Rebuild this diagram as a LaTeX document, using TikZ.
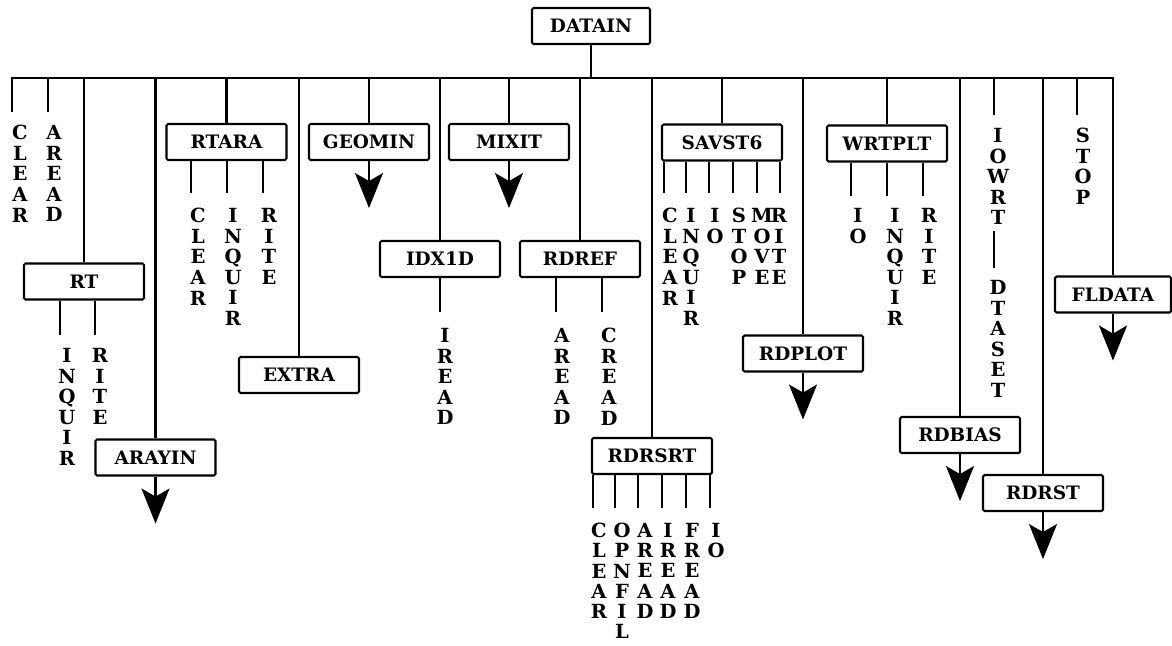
\documentclass[tikz,border=0pt]{standalone}
\usepackage{fontspec}
\setmainfont{DejaVu Serif}
\usetikzlibrary{arrows.meta}
\begin{document}
\begin{tikzpicture}[x=1pt,y=-1pt,
  every node/.style={font=\fontsize{18.5}{20.6}\selectfont\bfseries},
  ln/.style={line width=2.3pt},
  box/.style={draw, line width=2.1pt, rounded corners=1.5pt, minimum width=120pt, minimum height=36pt, inner sep=0pt},
  leaf/.style={anchor=north, inner sep=0pt, align=center, font=\fontsize{19.5}{20.6}\selectfont\bfseries},
  arr/.style={line width=2.4pt, -{Stealth[length=35pt,width=28pt,inset=8pt]}}]
\useasboundingbox (0,0) rectangle (1172,645);

% boxes
\node[box, minimum width=118pt] (datain) at (591,26) {DATAIN};
\node[box] (rt)     at (84,281.5)   {RT};
\node[box] (arayin) at (155.5,457.5) {ARAYIN};
\node[box] (rtara)  at (226.5,142)  {RTARA};
\node[box] (extra)  at (299,375)    {EXTRA};
\node[box] (geomin) at (369,142)    {GEOMIN};
\node[box] (idx1d)  at (440,259)    {IDX1D};
\node[box] (mixit)  at (509,142)    {MIXIT};
\node[box] (rdref)  at (580,259)    {RDREF};
\node[box] (rdrsrt) at (652,456)    {RDRSRT};
\node[box] (savst6) at (722,142.5)  {SAVST6};
\node[box] (rdplot) at (803,353.5)  {RDPLOT};
\node[box] (wrtplt) at (887,143.5)  {WRTPLT};
\node[box] (rdbias) at (960,435)    {RDBIAS};
\node[box] (rdrst)  at (1043,493)   {RDRST};
\node[box, minimum width=116pt] (fldata) at (1113,294.5) {FLDATA};

% bus
\coordinate (busL) at (12,78);
\coordinate (busR) at (1113,78);
\coordinate (clearE) at (12,112);
\draw[ln] (clearE) -- (busL) -- (busR) -- (fldata.north);
\draw[ln] (datain.south) -- (datain.south |- busL);

% branches to boxes
\foreach \b in {rt,arayin,rtara,extra,geomin,idx1d,mixit,rdref,rdrsrt,savst6,rdplot,wrtplt,rdbias,rdrst}
  \draw[ln] (\b.north |- busL) -- (\b.north);

% leaves hanging from the bus
\node[leaf] (tclear) at (20,125) {C\\L\\E\\A\\R};
\coordinate (areadE) at (48,112);
\draw[ln] (areadE |- busL) -- (areadE);
\node[leaf] (taread) at (54,125) {A\\R\\E\\A\\D};

\coordinate (iowrtE) at (994,115);
\draw[ln] (iowrtE |- busL) -- (iowrtE);
\node[leaf] (tiowrt) at (998,128) {I\\O\\W\\R\\T};
\node[leaf] (tdtaset) at (998,280) {D\\T\\A\\S\\E\\T};
\draw[ln] ([yshift=-6pt]tiowrt.south -| iowrtE) -- ([yshift=12pt]tdtaset.north -| iowrtE);

\coordinate (stopE) at (1077,115);
\draw[ln] (stopE |- busL) -- (stopE);
\node[leaf] (tstop) at (1083,128) {S\\T\\O\\P};

% RT leaves
\coordinate (rt1) at (60,335);
\coordinate (rt2) at (95,335);
\foreach \c in {rt1,rt2} \draw[ln] (rt.south -| \c) -- (\c);
\node[leaf] at (67,348) {I\\N\\Q\\U\\I\\R};
\node[leaf] at (100,348) {R\\I\\T\\E};

% RTARA leaves
\coordinate (ra1) at (191,193);
\coordinate (ra2) at (227,193);
\coordinate (ra3) at (263,193);
\foreach \c in {ra1,ra2,ra3} \draw[ln] (rtara.south -| \c) -- (\c);
\node[leaf] at (198,208) {C\\L\\E\\A\\R};
\node[leaf] at (233,208) {I\\N\\Q\\U\\I\\R};
\node[leaf] at (269,208) {R\\I\\T\\E};

% IDX1D leaf
\coordinate (ix1) at (440,312);
\draw[ln] (idx1d.south -| ix1) -- (ix1);
\node[leaf] at (445,328) {I\\R\\E\\A\\D};

% RDREF leaves
\coordinate (rf1) at (556,312);
\coordinate (rf2) at (602,312);
\foreach \c in {rf1,rf2} \draw[ln] (rdref.south -| \c) -- (\c);
\node[leaf] at (562,328) {A\\R\\E\\A\\D};
\node[leaf] at (609,328) {C\\R\\E\\A\\D};

% SAVST6 leaves
\coordinate (sv1) at (664,193);
\coordinate (sv2) at (686,193);
\coordinate (sv3) at (709,193);
\coordinate (sv4) at (733,193);
\coordinate (sv5) at (757,193);
\coordinate (sv6) at (780,193);
\foreach \c in {sv1,sv2,sv3,sv4,sv5,sv6} \draw[ln] (savst6.south -| \c) -- (\c);
\node[leaf] at (670,208) {C\\L\\E\\A\\R};
\node[leaf] at (691,208) {I\\N\\Q\\U\\I\\R};
\node[leaf] at (715,208) {I\\O};
\node[leaf] at (739,208) {S\\T\\O\\P};
\node[leaf] at (762,208) {M\\O\\V\\E};
\node[leaf] at (779,208) {R\\I\\T\\E};

% WRTPLT leaves
\coordinate (wp1) at (851,196);
\coordinate (wp2) at (887,196);
\coordinate (wp3) at (923,196);
\foreach \c in {wp1,wp2,wp3} \draw[ln] (wrtplt.south -| \c) -- (\c);
\node[leaf] at (858,208) {I\\O};
\node[leaf] at (895,208) {I\\N\\Q\\U\\I\\R};
\node[leaf] at (929,208) {R\\I\\T\\E};

% RDRSRT leaves
\coordinate (rs1) at (593,508);
\coordinate (rs2) at (615,508);
\coordinate (rs3) at (638,508);
\coordinate (rs4) at (662,508);
\coordinate (rs5) at (686,508);
\coordinate (rs6) at (710,508);
\foreach \c in {rs1,rs2,rs3,rs4,rs5,rs6} \draw[ln] (rdrsrt.south -| \c) -- (\c);
\begin{scope}[every node/.append style={font=\fontsize{19.5}{20.2}\selectfont\bfseries}]
\node[leaf, font=\fontsize{19.5}{20.2}\selectfont\bfseries] at (599,523) {C\\L\\E\\A\\R};
\node[leaf, font=\fontsize{19.5}{20.2}\selectfont\bfseries] at (622,523) {O\\P\\N\\F\\I\\L};
\node[leaf, font=\fontsize{19.5}{20.2}\selectfont\bfseries] at (645,523) {A\\R\\E\\A\\D};
\node[leaf, font=\fontsize{19.5}{20.2}\selectfont\bfseries] at (668,523) {I\\R\\E\\A\\D};
\node[leaf, font=\fontsize{19.5}{20.2}\selectfont\bfseries] at (692,523) {F\\R\\E\\A\\D};
\node[leaf, font=\fontsize{19.5}{20.2}\selectfont\bfseries] at (716,523) {I\\O};
\end{scope}

% continuation arrows
\foreach \b in {geomin,mixit,arayin,rdplot,rdbias,rdrst,fldata} {
  \path (\b.south) ++(0,47) coordinate (\b-end);
  \draw[arr] (\b.south) -- (\b-end);
}
\end{tikzpicture}
\end{document}
